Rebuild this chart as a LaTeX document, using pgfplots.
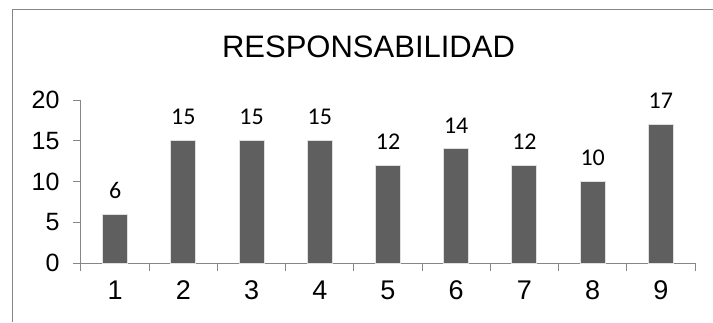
\documentclass[border=0pt]{standalone}
\usepackage{pgfplots}
\pgfplotsset{compat=1.18}
\usepackage{fontspec}
\setmainfont{Liberation Sans}
\newfontfamily\calibri{Carlito}
\definecolor{axgray}{HTML}{868686}
\definecolor{bargray}{HTML}{5F5F5F}
\begin{document}
\begin{tikzpicture}[x=1pt,y=1pt]
\begin{axis}[
  at={(81pt,59pt)}, anchor=south west,
  scale only axis, width=614pt, height=163pt,
  xmin=0.5, xmax=9.5, ymin=0, ymax=20,
  axis lines=left, axis line style={-, axgray, line width=1pt},
  xtick={1,...,9},
  minor xtick={0.5,1.5,...,9.5},
  ytick={0,5,10,15,20},
  tick align=outside,
  major tick length=8pt, minor tick length=8pt,
  tick style={axgray, line width=1pt},
  x tick style={draw=none},
  minor x tick style={draw=axgray, line width=1pt},
  /pgf/number format/assume math mode=true,
  yticklabel style={font=\fontsize{25}{29}\selectfont, xshift=-10pt},
  xticklabel style={font=\fontsize{27}{32}\selectfont, yshift=-6pt},
  ybar, bar width=25pt,
  nodes near coords,
  nodes near coords style={font=\calibri\fontsize{24}{28}\selectfont, black, yshift=12pt},
  clip=false,
]
\addplot[fill=bargray, draw=gray!25, line width=1pt] coordinates {
  (1,6) (2,15) (3,15) (4,15) (5,12) (6,14) (7,12) (8,10) (9,17)
};
\end{axis}
\node[font=\fontsize{31}{36}\selectfont] at (368.5pt,275pt) {RESPONSABILIDAD};
\draw[axgray, line width=1.5pt] (12.5pt,0pt) -- (12.5pt,312.5pt) -- (713pt,312.5pt);
\pgfresetboundingbox
\path[use as bounding box] (0pt,0pt) rectangle (713pt,322pt);
\end{tikzpicture}
\end{document}
